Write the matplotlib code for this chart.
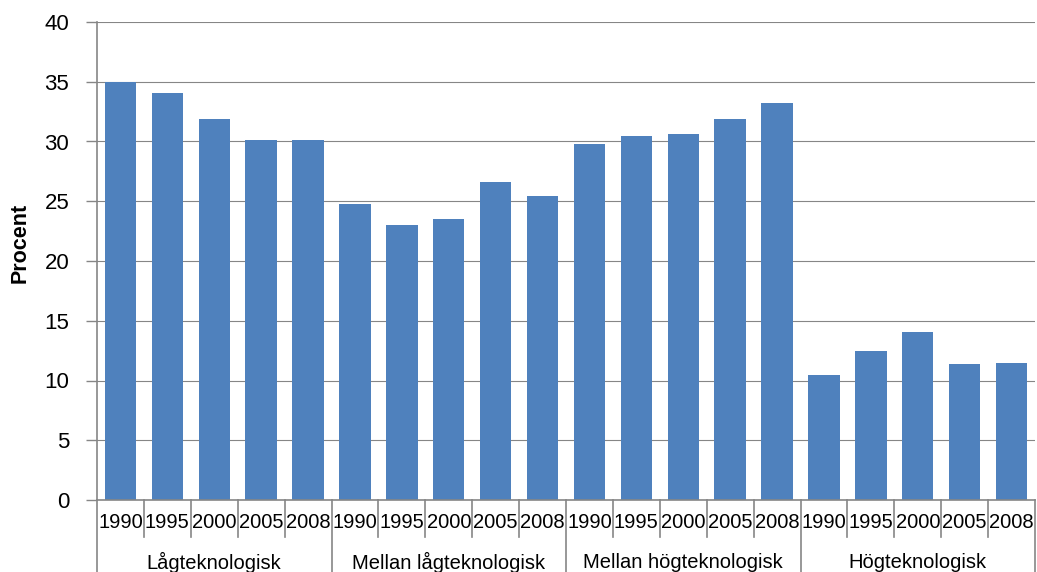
import matplotlib
matplotlib.use("Agg")
import matplotlib.pyplot as plt
import matplotlib.transforms as mtransforms

plt.rcParams['font.family'] = ['Liberation Sans', 'DejaVu Sans']

groups = ["Lågteknologisk", "Mellan lågteknologisk", "Mellan högteknologisk", "Högteknologisk"]
years = ["1990", "1995", "2000", "2005", "2008"]
values_lag = [35.0, 34.1, 31.9, 30.1, 30.1]
values_mellan_lag = [24.8, 23.0, 23.5, 26.6, 25.4]
values_mellan_hog = [29.8, 30.5, 30.6, 31.9, 33.2]
values_hog = [10.5, 12.5, 14.1, 11.4, 11.5]
yticks = [0, 5, 10, 15, 20, 25, 30, 35, 40]

all_values = values_lag + values_mellan_lag + values_mellan_hog + values_hog
n = len(all_values)
xs = list(range(n))

W, H = 1037, 572
fig = plt.figure(figsize=(W / 100, H / 100), dpi=100)
ax = fig.add_axes([97 / W, 1 - 500 / H, (1035 - 97) / W, (500 - 22) / H])

gray = "#868686"
ax.bar(xs, all_values, width=0.67, color="#4F81BD", zorder=2)
ax.set_xlim(-0.5, n - 0.5)
ax.set_ylim(0, 40)
ax.set_yticks(yticks)
ax.set_yticklabels([str(t) for t in yticks], fontsize=16)
ax.tick_params(axis='y', length=8, width=1, color=gray, pad=12)
ax.set_xticks([])
ax.set_axisbelow(True)
ax.yaxis.grid(True, color=gray, lw=0.8, zorder=0)

for s in ["top", "right"]:
    ax.spines[s].set_visible(False)
for s in ["left", "bottom"]:
    ax.spines[s].set_color(gray)
    ax.spines[s].set_linewidth(1.2)

trans = mtransforms.blended_transform_factory(ax.transData, ax.transAxes)
ax_h = 478.0
year_depth = -37 / ax_h
group_depth = -75 / ax_h
for i in range(n + 1):
    x = i - 0.5
    depth = group_depth if i % len(years) == 0 else year_depth
    ax.plot([x, x], [0, depth], color=gray, lw=1.2, transform=trans, clip_on=False)

for i, x in enumerate(xs):
    ax.text(x, -22 / ax_h, years[i % len(years)], transform=trans, ha="center", va="center",
            fontsize=14.5, color="black")

for g, name in enumerate(groups):
    center = g * len(years) + (len(years) - 1) / 2
    ax.text(center, -62 / ax_h, name, transform=trans, ha="center", va="center",
            fontsize=14.5, color="black")

fig.text(20 / W, 1 - 243 / H, "Procent", rotation=90, ha="center", va="center",
         fontsize=15.5, fontweight="bold")

fig.savefig("out.png", dpi=100)
